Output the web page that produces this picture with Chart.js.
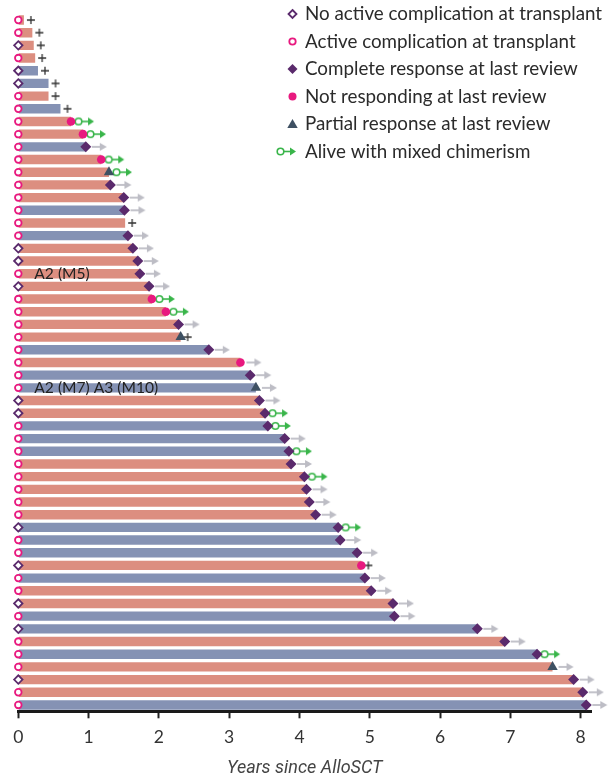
<!DOCTYPE html>
<html>
<head>
<meta charset="utf-8">
<script src="https://cdn.jsdelivr.net/npm/chart.js"></script>
<style>
  html, body { margin: 0; padding: 0; background: #fff; }
  #wrap { width: 610px; height: 781px; position: relative; }
</style>
</head>
<body>
<div id="wrap"><canvas id="swimmer-chart"></canvas></div>
<script>
// one row per patient, top to bottom
var patients = ["1","2","3","4","5","6","7","8","9","10","11","12","13","14","15","16","17","18","19","20",
  "21","22","23","24","25","26","27","28","29","30","31","32","33","34","35","36","37","38","39","40",
  "41","42","43","44","45","46","47","48","49","50","51","52","53","54","55"];
// years since AlloSCT at last review
var years = [0.08, 0.20, 0.22, 0.24, 0.28, 0.43, 0.43, 0.60, 0.75, 0.92,
  0.96, 1.18, 1.29, 1.31, 1.50, 1.51, 1.52, 1.56, 1.63, 1.70,
  1.73, 1.86, 1.90, 2.10, 2.28, 2.31, 2.71, 3.16, 3.30, 3.38,
  3.43, 3.51, 3.55, 3.79, 3.85, 3.88, 4.07, 4.10, 4.14, 4.23,
  4.55, 4.58, 4.82, 4.88, 4.93, 5.02, 5.33, 5.35, 6.53, 6.92,
  7.38, 7.60, 7.90, 8.03, 8.08];
// bar colour group
var barGroup = ["A","A","A","A","B","B","A","B","A","A","B","A","A","A","A","B","A","B","A","A",
  "A","A","A","A","A","A","B","A","B","B","A","A","B","B","B","A","A","A","A","A",
  "B","B","B","A","B","A","A","B","B","A","B","A","A","A","B"];
// status at transplant: N = no active complication, C = active complication
var atTransplant = ["C","C","N","C","N","N","C","C","C","C","C","C","C","C","C","C","C","C","N","N",
  "C","N","C","C","C","C","C","C","C","C","N","N","C","C","C","C","C","C","C","C",
  "N","C","C","N","C","C","N","C","N","C","C","C","N","C","C"];
// response at last review: CR complete, NR not responding, PR partial, "" none
var response = ["","","","","","","","","NR","NR","CR","NR","PR","CR","CR","CR","","CR","CR","CR",
  "CR","CR","NR","NR","CR","PR","CR","NR","CR","PR","CR","CR","CR","CR","CR","CR","CR","CR","CR","CR",
  "CR","CR","CR","NR","CR","CR","CR","CR","CR","CR","CR","PR","CR","CR","CR"];
// outcome: alive, dead, mixed (alive with mixed chimerism)
var outcome = ["dead","dead","dead","dead","dead","dead","dead","dead","mixed","mixed",
  "alive","mixed","mixed","alive","alive","alive","dead","alive","alive","alive",
  "alive","alive","mixed","mixed","alive","dead","alive","alive","alive","alive",
  "alive","mixed","mixed","alive","mixed","alive","mixed","alive","alive","alive",
  "mixed","alive","alive","dead","alive","alive","alive","alive","alive","alive",
  "mixed","alive","alive","alive","alive"];
var noteRows = ["21", "30"];
var noteTexts = ["A2 (M5)", "A2 (M7) A3 (M10)"];
var xTicks = [0, 1, 2, 3, 4, 5, 6, 7, 8];
var legendLabels = [
  "No active complication at transplant",
  "Active complication at transplant",
  "Complete response at last review",
  "Not responding at last review",
  "Partial response at last review",
  "Alive with mixed chimerism"
];

var SALMON = "#DC8E80", BLUE = "#8592B4", PURPLE = "#5A2A6C", PINK = "#E8197F",
    SLATE = "#3E5062", GREEN = "#39B54A", GREY = "#BDBDC5", INK = "#2B2B2B";

function drawArrow(g, x, y) {
  g.strokeStyle = GREY; g.fillStyle = GREY; g.lineWidth = 1.8;
  g.beginPath(); g.moveTo(x + 6, y); g.lineTo(x + 15, y); g.stroke();
  g.beginPath(); g.moveTo(x + 14, y - 4); g.lineTo(x + 21, y); g.lineTo(x + 14, y + 4); g.closePath(); g.fill();
}
function drawPlus(g, x, y) {
  g.strokeStyle = "#333"; g.lineWidth = 1.3;
  g.beginPath();
  g.moveTo(x + 3, y); g.lineTo(x + 11, y);
  g.moveTo(x + 7, y - 4); g.lineTo(x + 7, y + 4);
  g.stroke();
}
function drawChim(g, x, y) {
  g.strokeStyle = GREEN; g.fillStyle = GREEN; g.lineWidth = 1.6;
  g.beginPath(); g.moveTo(x + 11, y); g.lineTo(x + 18, y); g.stroke();
  g.beginPath(); g.moveTo(x + 17, y - 4); g.lineTo(x + 23, y); g.lineTo(x + 17, y + 4); g.closePath(); g.fill();
  g.beginPath(); g.arc(x + 7.5, y, 3.3, 0, Math.PI * 2);
  g.fillStyle = "#fff"; g.fill(); g.stroke();
}
function stamp(draw) {
  var c = document.createElement("canvas");
  c.width = 56; c.height = 14;
  draw(c.getContext("2d"), 28, 7);
  return c;
}

function pick(list, key, atEnd) {
  var out = [];
  for (var i = 0; i < patients.length; i++) {
    if (list[i] === key) out.push({ x: atEnd ? years[i] : 0, y: patients[i] });
  }
  return out;
}

function marker(data, style, radius, fill, stroke, bw, order) {
  return {
    type: "scatter", data: data, pointStyle: style, pointRadius: radius,
    backgroundColor: fill, borderColor: stroke, borderWidth: bw,
    order: order, clip: false
  };
}

var overlay = {
  id: "overlay",
  afterDatasetsDraw: function (chart) {
    var ctx = chart.ctx, xs = chart.scales.x, ys = chart.scales.y;
    ctx.save();
    ctx.font = "15.6px Lato";
    ctx.fillStyle = "#222";
    ctx.textBaseline = "middle";
    noteRows.forEach(function (r, i) {
      ctx.fillText(noteTexts[i], xs.getPixelForValue(0) + 16, ys.getPixelForValue(patients.indexOf(r)) + 0.5);
    });
    ctx.restore();
  },
  afterDraw: function (chart) {
    var ctx = chart.ctx, ix = 292.5, tx = 305;
    ctx.save();
    legendLabels.forEach(function (t, i) {
      var y = 14 + i * 27.5;
      ctx.lineWidth = 1.8;
      if (i === 0) {
        ctx.beginPath(); ctx.moveTo(ix, y - 4); ctx.lineTo(ix + 4, y); ctx.lineTo(ix, y + 4); ctx.lineTo(ix - 4, y); ctx.closePath();
        ctx.fillStyle = "#fff"; ctx.fill(); ctx.strokeStyle = PURPLE; ctx.stroke();
      } else if (i === 1) {
        ctx.beginPath(); ctx.arc(ix, y, 3.2, 0, Math.PI * 2);
        ctx.fillStyle = "#fff"; ctx.fill(); ctx.strokeStyle = PINK; ctx.stroke();
      } else if (i === 2) {
        ctx.beginPath(); ctx.moveTo(ix, y - 5); ctx.lineTo(ix + 5, y); ctx.lineTo(ix, y + 5); ctx.lineTo(ix - 5, y); ctx.closePath();
        ctx.fillStyle = PURPLE; ctx.fill();
      } else if (i === 3) {
        ctx.beginPath(); ctx.arc(ix, y, 4, 0, Math.PI * 2); ctx.fillStyle = PINK; ctx.fill();
      } else if (i === 4) {
        ctx.beginPath(); ctx.moveTo(ix, y - 5); ctx.lineTo(ix + 5.2, y + 4); ctx.lineTo(ix - 5.2, y + 4); ctx.closePath();
        ctx.fillStyle = SLATE; ctx.fill();
      } else {
        drawChim(ctx, 273, y);
      }
      ctx.font = "18.8px Lato";
      ctx.fillStyle = INK;
      ctx.textBaseline = "middle";
      ctx.fillText(t, tx, y);
    });
    ctx.restore();
  }
};

var arrowImg = stamp(drawArrow), plusImg = stamp(drawPlus), chimImg = stamp(drawChim);

new Chart(document.getElementById("swimmer-chart"), {
  type: "bar",
  data: {
    labels: patients,
    datasets: [
      marker(pick(atTransplant, "N", false), "rectRot", 4.2, "#fff", PURPLE, 1.8, 0),
      marker(pick(atTransplant, "C", false), "circle", 3.3, "#fff", PINK, 1.8, 0),
      marker(pick(response, "CR", true), "rectRot", 5.5, PURPLE, PURPLE, 0, 0),
      marker(pick(response, "NR", true), "circle", 4.3, PINK, PINK, 0, 0),
      marker(pick(response, "PR", true), "triangle", 6, SLATE, SLATE, 0, 0),
      marker(pick(outcome, "alive", true), arrowImg, 4, GREY, GREY, 0, 1),
      marker(pick(outcome, "dead", true), plusImg, 4, "#333", "#333", 0, 1),
      marker(pick(outcome, "mixed", true), chimImg, 4, GREEN, GREEN, 0, 1),
      {
        type: "bar",
        data: years,
        backgroundColor: barGroup.map(function (g) { return g === "A" ? SALMON : BLUE; }),
        borderWidth: 0,
        barPercentage: 0.74,
        categoryPercentage: 1,
        order: 2
      }
    ]
  },
  options: {
    indexAxis: "y",
    responsive: true,
    maintainAspectRatio: false,
    animation: false,
    events: [],
    layout: { padding: { left: 18.3, right: 18.8, top: 13.66, bottom: 0 } },
    plugins: { legend: { display: false }, tooltip: { enabled: false } },
    scales: {
      y: { type: "category", display: false, offset: true },
      x: {
        type: "linear",
        position: "bottom",
        min: 0,
        max: 8.15,
        afterBuildTicks: function (s) { s.ticks = xTicks.map(function (v) { return { value: v }; }); },
        afterFit: function (s) { s.height = 69.7; },
        grid: { display: true, drawOnChartArea: false, drawTicks: true, tickLength: 7, tickWidth: 2, tickColor: "#222" },
        border: { display: true, color: "#1a1a1a", width: 3 },
        ticks: { font: { family: "Lato", size: 17.5 }, color: "#333", padding: 9, maxRotation: 0 },
        title: {
          display: true,
          text: "Years since AlloSCT",
          color: "#444",
          font: { family: "Roboto", size: 18, style: "italic" },
          padding: { top: 4, bottom: 1.5 }
        }
      }
    }
  },
  plugins: [overlay]
});
</script>
</body>
</html>
